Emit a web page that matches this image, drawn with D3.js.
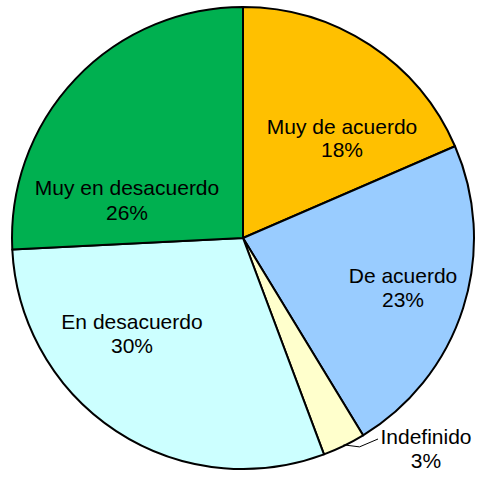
<!DOCTYPE html>
<html>
<head>
<meta charset="utf-8">
<script src="https://cdn.jsdelivr.net/npm/d3@7"></script>
<style>
    body { margin: 0; background: #ffffff; }
    svg { display: block; }
    text { font-family: "Liberation Sans", Arial, sans-serif; font-size: 21px; fill: #000000; }
</style>
</head>
<body>
<div id="chart"></div>
<script>
"use strict";

// data, clockwise from 12 o'clock
let categories = ["Muy de acuerdo", "De acuerdo", "Indefinido", "En desacuerdo", "Muy en desacuerdo"];
let values = [18.5, 22.8, 3.0, 29.9, 25.8];
let percentLabels = ["18%", "23%", "3%", "30%", "26%"];

let colors = ["#ffc000", "#99ccff", "#ffffcc", "#ccffff", "#00b050"];

// label anchors (centre x, first baseline, line gap) relative to pie centre
let labelLayout = [
    { dx: 99, dy: -104, gap: 23 },
    { dx: 160, dy: 45, gap: 24 },
    { dx: 183, dy: 206, gap: 24 },
    { dx: -111, dy: 91, gap: 24 },
    { dx: -116, dy: -43, gap: 25 }
];

let width = 477;
let height = 480;
let cx = 243;
let cy = 238;
let radius = 231;

let svg = d3.select("#chart").append("svg")
    .attr("width", width)
    .attr("height", height);

let g = svg.append("g")
    .attr("transform", "translate(" + cx + "," + cy + ")");

let pie = d3.pie()
    .sort(null)
    .value(d => d);

let arcs = pie(values);

let arc = d3.arc()
    .innerRadius(0)
    .outerRadius(radius);

g.selectAll(".slice")
    .data(arcs)
    .enter().append("path")
    .attr("class", "slice")
    .attr("d", arc)
    .style("fill", (d, i) => colors[i])
    .style("stroke", "#000000")
    .style("stroke-width", 2)
    .style("stroke-linejoin", "round");

// leader line for the small slice
let small = arcs[2];
let mid = (small.startAngle + small.endAngle) / 2;
let edge = [Math.sin(mid) * (radius - 1), -Math.cos(mid) * (radius - 1)];
let lab = labelLayout[2];
g.append("path")
    .attr("d", d3.line()([
        edge,
        [edge[0] + 16, edge[1] + 2],
        [lab.dx - 48, lab.dy - 5]
    ]))
    .style("fill", "none")
    .style("stroke", "#000000")
    .style("stroke-width", 1);

let labels = g.selectAll(".label")
    .data(arcs)
    .enter().append("text")
    .attr("class", "label")
    .attr("text-anchor", "middle")
    .attr("transform", (d, i) => "translate(" + labelLayout[i].dx + "," + labelLayout[i].dy + ")");

labels.append("tspan")
    .attr("x", 0)
    .attr("y", 0)
    .text((d, i) => categories[i]);

labels.append("tspan")
    .attr("x", 0)
    .attr("y", (d, i) => labelLayout[i].gap)
    .text((d, i) => percentLabels[i]);
</script>
</body>
</html>
